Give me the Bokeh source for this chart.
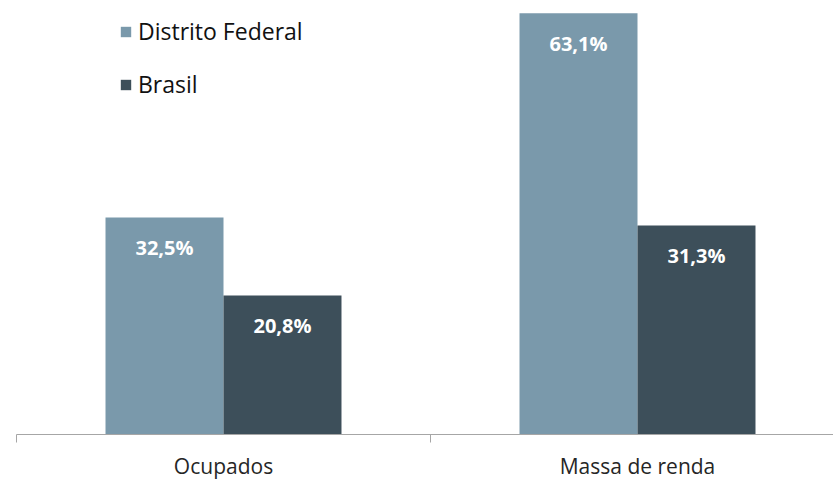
from bokeh.plotting import figure
from bokeh.models import ColumnDataSource, Range1d, FixedTicker, Legend, LegendItem
from bokeh.core.properties import value
from bokeh.embed import file_html
from bokeh.resources import INLINE

categories = ["Ocupados", "Massa de renda"]
series = ["Distrito Federal", "Brasil"]
df_values = [32.5, 63.1]
br_values = [20.8, 31.3]
colors = ["#7A99AB", "#3D4F5A"]

bar_w = 0.285
idx = list(range(len(categories)))

p = figure(width=833, height=482, output_backend="svg", toolbar_location=None,
           x_range=Range1d(0, 817 / 414), y_range=Range1d(0, 65.0),
           y_axis_location=None, min_border_left=16, min_border_right=0,
           min_border_top=0, min_border_bottom=48)
p.outline_line_color = None
p.xgrid.visible = False
p.ygrid.visible = False
p.background_fill_color = "white"
p.border_fill_color = "white"

renderers = []
for s, vals, col, sign in [(series[0], df_values, colors[0], -1), (series[1], br_values, colors[1], 1)]:
    xs = [i + 0.5 + sign * bar_w / 2 for i in idx]
    src = ColumnDataSource(dict(x=xs, top=vals, lab=[f"{v:.1f}".replace(".", ",") + "%" for v in vals]))
    r = p.vbar(x="x", top="top", bottom=0, width=bar_w, source=src, fill_color=col, line_color=None)
    renderers.append((s, r))
    p.text(x="x", y="top", text="lab", source=src, text_color="white",
           text_font=value("Open Sans"), text_font_style="bold", text_font_size="20px",
           text_align="center", text_baseline="middle", y_offset=30)

ax = p.xaxis[0]
ax.ticker = FixedTicker(ticks=[i + 0.5 for i in idx], minor_ticks=[0] + [i + 1 for i in idx])
ax.major_label_overrides = {i + 0.5: c for i, c in zip(idx, categories)}
ax.major_tick_line_color = None
ax.major_tick_out = 0
ax.major_tick_in = 0
ax.minor_tick_in = 0
ax.minor_tick_out = 8
ax.minor_tick_line_color = "#A6A6A6"
ax.axis_line_color = "#A6A6A6"
ax.major_label_standoff = 9
ax.major_label_text_font = "Open Sans"
ax.major_label_text_font_size = "21px"
ax.major_label_text_color = "#262626"

legend = Legend(items=[LegendItem(label=s, renderers=[r]) for s, r in renderers],
                location=(103, 334), orientation="vertical")
legend.glyph_width = 13
legend.glyph_height = 13
legend.label_standoff = 6
legend.spacing = 21
legend.padding = 0
legend.margin = 0
legend.border_line_color = None
legend.background_fill_alpha = 0
legend.label_text_font = "Open Sans"
legend.label_text_font_size = "23px"
legend.label_text_color = "#111111"
p.add_layout(legend, "center")

open("out.html", "w").write(file_html(p, INLINE))
